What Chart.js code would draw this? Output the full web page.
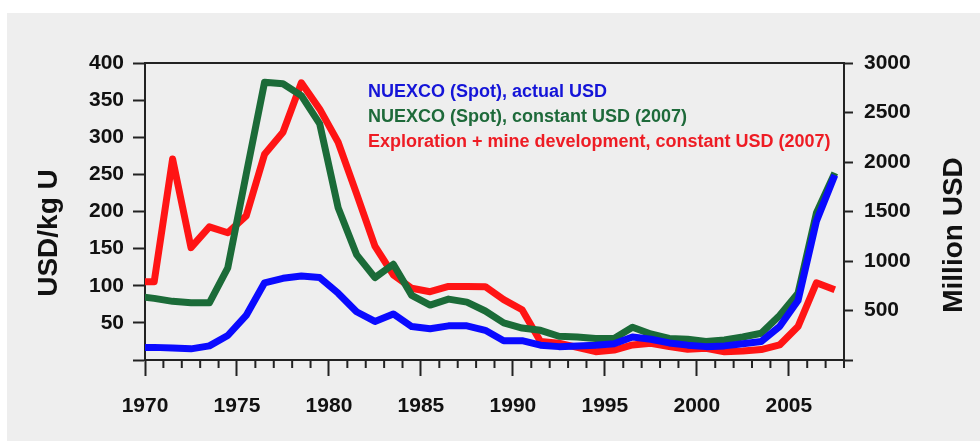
<!DOCTYPE html>
<html>
<head>
<meta charset="utf-8">
<script src="https://cdn.jsdelivr.net/npm/chart.js@4.4.1/dist/chart.umd.min.js"></script>
<style>
  html, body { margin: 0; padding: 0; background: #ffffff; }
  #panel { position: absolute; left: 7px; top: 13px; width: 973px; height: 428px; background: #eeeeee; }
  canvas { display: block; }
</style>
</head>
<body>
<div id="panel"><canvas id="uranium" width="973" height="428"></canvas></div>
<script>
// annual values, plotted at mid-year (1969 only feeds the segment at the left edge)
const years = [1969, 1970, 1971, 1972, 1973, 1974, 1975, 1976, 1977, 1978,
  1979, 1980, 1981, 1982, 1983, 1984, 1985, 1986, 1987, 1988,
  1989, 1990, 1991, 1992, 1993, 1994, 1995, 1996, 1997, 1998,
  1999, 2000, 2001, 2002, 2003, 2004, 2005, 2006, 2007];

// USD/kg U
const spotActual = [17, 17, 16, 15, 19, 33, 60, 104, 110, 113,
  111, 90, 65, 52, 62, 45, 42, 46, 46, 40,
  26, 26, 20, 18, 19, 20, 22, 31, 28, 23,
  20, 18, 19, 22, 25, 45, 80, 187, 249];

// USD/kg U
const spotConstant = [86, 83, 79, 77, 77, 124, 250, 374, 372, 356,
  318, 205, 142, 111, 129, 87, 74, 82, 78, 66,
  50, 43, 40, 32, 31, 29, 29, 44, 35, 29,
  28, 25, 27, 31, 36, 60, 90, 198, 252];

// Million USD
const exploration = [790, 790, 2030, 1135, 1345, 1285, 1455, 2078, 2300, 2800,
  2534, 2200, 1680, 1150, 860, 725, 690, 743, 743, 740,
  610, 507, 186, 169, 128, 84, 101, 152, 169, 135,
  108, 118, 84, 90, 105, 152, 338, 780, 709];

const seriesLabels = [
  "NUEXCO (Spot), actual USD",
  "NUEXCO (Spot), constant USD (2007)",
  "Exploration + mine development, constant USD (2007)",
];

const leftTitle = "USD/kg U";
const rightTitle = "Million USD";

const LINE_COLORS = ["#0a0aff", "#1b6b38", "#ff1414"];
const TEXT_COLORS = ["#1414d8", "#1e6a3a", "#ee1c24"];
const AXIS_COLOR = "#222222";
const FONT = "'Liberation Sans', Arial, sans-serif";

Chart.defaults.font.family = FONT;

function points(values) {
  return values.map((v, i) => ({ x: years[i] + 0.5, y: v }));
}

function lineSet(label, values, color, axis) {
  return {
    label: label,
    data: points(values),
    yAxisID: axis,
    borderColor: color,
    backgroundColor: color,
    borderWidth: 7,
    borderJoinStyle: "round",
    pointRadius: 0,
    tension: 0,
    clip: 0,
  };
}

//============================
// extra drawing: frame top, minor ticks, legend, titles
//============================

const decorations = {
  id: "decorations",
  afterDraw(chart) {
    const ctx = chart.ctx;
    const a = chart.chartArea;
    const x = chart.scales.x;
    ctx.save();
    ctx.strokeStyle = AXIS_COLOR;
    ctx.lineWidth = 2;

    ctx.beginPath();
    ctx.moveTo(a.left, a.top);
    ctx.lineTo(a.right, a.top);
    ctx.stroke();

    x.ticks.forEach(function (t) {
      if (t.value % 5 === 0) return;
      const px = x.getPixelForValue(t.value);
      ctx.beginPath();
      ctx.moveTo(px, a.bottom);
      ctx.lineTo(px, a.bottom + 8);
      ctx.stroke();
    });

    // legend, plain coloured text
    ctx.font = "bold 18px " + FONT;
    ctx.textAlign = "left";
    ctx.textBaseline = "alphabetic";
    chart.data.datasets.forEach(function (ds, i) {
      ctx.fillStyle = TEXT_COLORS[i];
      ctx.fillText(ds.label, a.left + 223, a.top + 33.5 + i * 25);
    });

    // axis titles, both read bottom to top
    ctx.fillStyle = "#111111";
    ctx.font = "bold 28px " + FONT;
    ctx.textAlign = "center";
    ctx.save();
    ctx.translate(50, 220);
    ctx.rotate(-Math.PI / 2);
    ctx.fillText(leftTitle, 0, 0);
    ctx.restore();
    ctx.save();
    ctx.translate(955, 222);
    ctx.rotate(-Math.PI / 2);
    ctx.fillText(rightTitle, 0, 0);
    ctx.restore();

    ctx.restore();
  },
};

const tickFont = { size: 21, weight: "bold", family: FONT };

new Chart(document.getElementById("uranium"), {
  type: "line",
  data: {
    datasets: [
      lineSet(seriesLabels[0], spotActual, LINE_COLORS[0], "y"),
      lineSet(seriesLabels[1], spotConstant, LINE_COLORS[1], "y"),
      lineSet(seriesLabels[2], exploration, LINE_COLORS[2], "y1"),
    ],
  },
  options: {
    responsive: false,
    animation: false,
    devicePixelRatio: 1,
    layout: { padding: { top: 50, left: 0, right: 0, bottom: 0 } },
    plugins: { legend: { display: false }, tooltip: { enabled: false } },
    scales: {
      x: {
        type: "linear",
        min: 1970,
        max: 2008,
        ticks: {
          stepSize: 1,
          autoSkip: false,
          maxRotation: 0,
          padding: 18,
          color: "#111111",
          font: tickFont,
          callback: (v) => (v % 5 === 0 ? String(v) : ""),
        },
        grid: {
          drawOnChartArea: false,
          tickLength: 16,
          tickWidth: 2,
          tickColor: (c) => (c.tick && c.tick.value % 5 === 0 ? AXIS_COLOR : "rgba(0,0,0,0)"),
        },
        border: { color: AXIS_COLOR, width: 2 },
        afterFit: (s) => { s.height = 81; },
      },
      y: {
        position: "left",
        min: 0,
        max: 400,
        ticks: {
          stepSize: 50,
          padding: 9,
          color: "#111111",
          font: tickFont,
          callback: (v) => (v === 0 ? "" : String(v)),
        },
        grid: { drawOnChartArea: false, tickLength: 12, tickWidth: 2, tickColor: AXIS_COLOR },
        border: { color: AXIS_COLOR, width: 2 },
        afterFit: (s) => { s.width = 138; },
      },
      y1: {
        position: "right",
        min: 0,
        max: 3000,
        ticks: {
          stepSize: 500,
          padding: 11,
          color: "#111111",
          font: tickFont,
          callback: (v) => (v === 0 ? "" : String(v)),
        },
        grid: { drawOnChartArea: false, tickLength: 9, tickWidth: 2, tickColor: AXIS_COLOR },
        border: { color: AXIS_COLOR, width: 2 },
        afterFit: (s) => { s.width = 136; },
      },
    },
  },
  plugins: [decorations],
});
</script>
</body>
</html>
